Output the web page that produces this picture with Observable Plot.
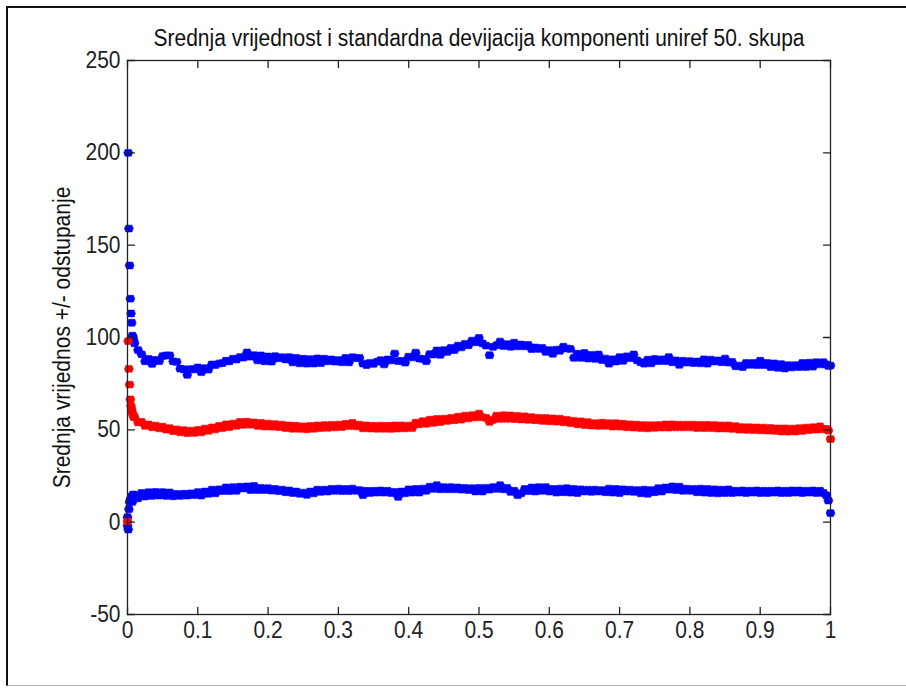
<!DOCTYPE html>
<html>
<head>
<meta charset="utf-8">
<script src="https://cdn.jsdelivr.net/npm/d3@7"></script>
<script src="https://cdn.jsdelivr.net/npm/@observablehq/plot@0.6"></script>
<style>
  html, body { margin: 0; padding: 0; background: #fff; }
  #wrap { position: relative; width: 906px; height: 689px; overflow: hidden; background: #fff; }
  #border { position: absolute; left: 6px; top: 6px; width: 920px; height: 680px;
            border-left: 2px solid #111; border-top: 2px solid #111; border-bottom: 1px solid #b0b0b0; box-sizing: border-box; }
  #chart { position: absolute; left: 0; top: 0; }
</style>
</head>
<body>
<div id="wrap"><div id="border"></div><div id="chart"></div></div>
<script>
// Normalised component position: dense samples at both ends, regular steps in between
const headX = [0, 0.001, 0.002, 0.003, 0.004, 0.005, 0.006, 0.007, 0.008, 0.009];
const bodyX = d3.range(197).map(i => 0.01 + 0.005 * i);
const tailX = [0.994, 0.997, 1.0];
const compX = [...headX, ...bodyX, ...tailX];

// Mean value of each component
const meanVals = [
  0.4, 98, 83, 74.5, 66.5, 63, 61, 59, 58, 57,
  56.8, 54, 54.3, 52.2, 52.9, 51.4, 52.3, 50.8, 51.7, 50.1,
  50.9, 49.3, 50.2, 48.6, 49.8, 48.2, 49.6, 48.3, 49.9, 48.6,
  50.7, 49.5, 51.3, 50.2, 52.1, 51, 53, 51.5, 53.4, 52.2,
  54.3, 52.7, 54.4, 52.8, 54, 52.1, 53.7, 51.8, 53.4, 51.7,
  53.1, 51.5, 52.8, 51, 52.4, 50.6, 52.2, 50.5, 51.9, 50.3,
  52.1, 50.6, 52.4, 50.9, 52.6, 51.1, 52.7, 51.3, 52.8, 51.5,
  53.2, 52, 53.8, 51.9, 52.8, 50.8, 52.4, 50.7, 52.2, 50.6,
  52.3, 50.6, 52.2, 50.5, 52.4, 50.7, 52.4, 50.8, 52.3, 51,
  53.9, 53, 54.7, 53.3, 55.5, 53.8, 55.9, 54.2, 56.1, 54.8,
  56.5, 55.2, 57.1, 55.5, 57.7, 56.2, 57.9, 56.7, 58.8, 56.8,
  56.5, 54.3, 55.4, 57.7, 55.9, 57.9, 56, 57.8, 55.8, 57.5,
  55.6, 57.3, 55.4, 56.9, 55.2, 56.5, 54.8, 56.5, 54.6, 56.2,
  54.4, 56, 54.1, 55.4, 53.7, 54.9, 53, 54.6, 52.6, 54.2,
  52.3, 53.6, 52.1, 53.9, 52.2, 53.6, 51.8, 53.6, 51.7, 53.3,
  51.4, 53, 51.2, 52.8, 51, 52.6, 50.8, 52.5, 51.1, 52.6,
  51.2, 52.9, 51.2, 53, 51.3, 52.8, 51.3, 52.8, 51.3, 52.8,
  51, 52.7, 51, 52.7, 50.9, 52.6, 50.7, 52.4, 50.7, 52.4,
  50.5, 52, 50.1, 51.5, 50, 51.4, 49.8, 51.3, 49.7, 51.2,
  49.6, 51, 49.4, 50.8, 49.1, 50.8, 49, 50.7, 49.1, 50.9,
  49.4, 51.2, 49.9, 51.4, 50.1, 51.9, 50.3,
  50.5, 49.6, 45
];

// Mean + standard deviation
const upperVals = [
  2.7, 200, 159, 139, 121, 113, 108, 101, 100, 98,
  96.8, 93.2, 90.9, 87.1, 88.4, 85.7, 87.9, 87.2, 89.9, 90.3,
  90.3, 87.1, 86.8, 83.1, 82.8, 79.8, 82.9, 82.7, 83.8, 81.2,
  83.4, 82.6, 85.4, 85.1, 85.9, 86.1, 87.4, 87.1, 88.5, 88.1,
  89.4, 89.1, 91.9, 89.6, 90.4, 87.6, 90.3, 87.1, 89.7, 86.9,
  89.9, 88.7, 89.3, 88.1, 89.4, 86.5, 89, 86, 88.5, 85.8,
  88.3, 85.9, 88.7, 86.1, 88.5, 87.1, 88.1, 86.9, 87.8, 86.6,
  88.9, 86.5, 89.3, 88.8, 89, 85.9, 85.1, 86.3, 85.7, 86.9,
  87.7, 85.4, 88.1, 87.6, 91.3, 87.2, 87.3, 86.4, 89.6, 89.2,
  91.8, 88.6, 88.4, 87.2, 91, 90.8, 93, 90.6, 93.2, 92.2,
  94.4, 93.2, 95.6, 94.6, 96.6, 95.8, 98.3, 97.4, 99.8, 96.8,
  95.6, 90.4, 94.9, 95.8, 97.8, 95.4, 96.4, 95, 97.2, 95.2,
  96.2, 95.2, 96, 93.7, 94.6, 93.8, 94.4, 92.2, 93.2, 91.2,
  93.4, 92.8, 95, 94, 93.8, 89, 91.2, 89, 91.6, 88.6,
  90.6, 88.4, 90.8, 87.8, 88.6, 85.8, 88.2, 87, 89.4, 87.4,
  89.8, 88.8, 90.8, 87.6, 86.6, 85.8, 88, 86, 88.4, 87.2,
  88.2, 87.2, 89.4, 86.6, 87.6, 85.2, 87.4, 86.4, 87.2, 86.2,
  87, 86, 88.2, 85.8, 88, 87, 87.6, 86.6, 88.6, 86.4,
  86.8, 84.4, 84.8, 84, 86.2, 85.2, 86.2, 85, 87.4, 85,
  86.2, 84, 86, 83.6, 85.6, 83.2, 85, 83.8, 85, 84,
  86.2, 84, 86.4, 84.2, 86.6, 85.4, 86.6,
  85.4, 84.6, 84.8
];

// Mean - standard deviation
const lowerVals = [
  -1.9, -4, 7, 10.8, 12, 13, 14, 11, 15, 14,
  14.8, 12.9, 15.8, 13.9, 16.2, 14.2, 16.4, 14.4, 16.3, 14.2,
  16.1, 14, 15.3, 14.2, 15.4, 14.4, 15.6, 14.6, 16.3, 14.4,
  16.6, 15.4, 17.6, 15.6, 17.8, 16.8, 18.8, 16.8, 19, 17,
  19.2, 18.2, 19.4, 17.4, 19.6, 17.4, 18.6, 17.4, 18.4, 17.1,
  18, 16.8, 17.6, 16.2, 17.2, 15.8, 16.6, 15.4, 16, 14.8,
  16.6, 15.6, 17.6, 16.4, 17.6, 16.6, 18, 17, 18.2, 16.8,
  18, 16.8, 18.2, 17, 17.4, 14.6, 17, 15.8, 17, 16,
  17.2, 16, 17, 15.8, 16.4, 13.7, 16.6, 15.6, 17.8, 16,
  18, 16, 18.2, 17, 19.2, 18, 20, 17.8, 19, 17.8,
  19, 17.8, 18.8, 17.6, 18.6, 17.4, 18.4, 16.6, 18.6, 16.6,
  18.6, 17.6, 19, 18, 20, 17.8, 18.6, 16.4, 17, 14.6,
  15.6, 18, 16.8, 18.8, 16.6, 19, 17, 19, 16.6, 18,
  16, 18.2, 16.2, 18.4, 16, 18, 15.8, 17.8, 16.6, 17.6,
  16.4, 17.6, 16.6, 17.4, 16.2, 18.2, 16, 18, 15.8, 17.8,
  16.6, 17.6, 16.4, 17.4, 15.6, 17.6, 15.4, 17.4, 16.2, 18.4,
  16.6, 18.8, 17.6, 19.4, 17.4, 19.2, 17, 18.2, 17, 18,
  16.2, 18.2, 16, 18, 15.8, 17.8, 15.6, 17.6, 15.8, 17.8,
  15.8, 17, 16, 17.2, 15.8, 17, 16, 17.2, 15.8, 17,
  15.8, 17, 16, 17.2, 15.8, 17, 15.8, 17.2, 16, 17.2,
  15.8, 17, 16, 17.2, 15.8, 17, 15.8,
  14.5, 11.7, 4.9
];

const xTicks = [0, 0.1, 0.2, 0.3, 0.4, 0.5, 0.6, 0.7, 0.8, 0.9, 1];
const yTicks = [-50, 0, 50, 100, 150, 200, 250];
const titleText = "Srednja vrijednost i standardna devijacija komponenti uniref 50. skupa";
const yLabelText = "Srednja vrijednos +/- odstupanje";

for (const [name, arr] of [["mean", meanVals], ["upper", upperVals], ["lower", lowerVals]]) {
  if (arr.length !== compX.length) throw new Error(`${name}: ${arr.length} values for ${compX.length} positions`);
}

const rows = compX.map((x, i) => ({x, mean: meanVals[i], upper: upperVals[i], lower: lowerVals[i]}));

// Filled marker: a wide, flat-topped diamond with pointed ends
const flatDiamond = {
  draw(context, size) {
    const r = Math.sqrt(size / Math.PI);
    const w = r * 1.1, h = r * 0.85, s = w * 0.7;
    context.moveTo(-w, 0);
    context.lineTo(-s, -h);
    context.lineTo(s, -h);
    context.lineTo(w, 0);
    context.lineTo(s, h);
    context.lineTo(-s, h);
    context.closePath();
  }
};

// Short inward-pointing tick line
const tickLine = {
  draw(context, l) {
    context.moveTo(0, 0);
    context.lineTo(0, -l);
  }
};

const axisColor = "#222";
const fontFamily = "'Liberation Sans', Arial, Helvetica, sans-serif";
const dotStyle = {x: "x", symbol: flatDiamond, r: 4, strokeWidth: 0.6};

const chart = Plot.plot({
  width: 906,
  height: 689,
  marginLeft: 127,
  marginRight: 76,
  marginTop: 60,
  marginBottom: 75,
  style: {fontFamily, fontSize: "21px", color: axisColor, background: "transparent"},
  x: {domain: [0, 1]},
  y: {domain: [-50, 250]},
  marks: [
    Plot.dot(rows, {...dotStyle, y: "upper", fill: "#0000ff", stroke: "#0000ff"}),
    Plot.dot(rows, {...dotStyle, y: "lower", fill: "#0000ff", stroke: "#0000ff"}),
    Plot.dot(rows, {...dotStyle, y: "mean", fill: "#ff0000", stroke: "#ff0000"}),
    Plot.frame({stroke: axisColor, strokeWidth: 1.3}),
    Plot.vector(xTicks, {x: d => d, frameAnchor: "bottom", rotate: 0, length: 7, anchor: "start", shape: tickLine, stroke: axisColor, strokeWidth: 1.3}),
    Plot.vector(xTicks, {x: d => d, frameAnchor: "top", rotate: 180, length: 7, anchor: "start", shape: tickLine, stroke: axisColor, strokeWidth: 1.3}),
    Plot.vector(yTicks, {y: d => d, frameAnchor: "left", rotate: 90, length: 7, anchor: "start", shape: tickLine, stroke: axisColor, strokeWidth: 1.3}),
    Plot.vector(yTicks, {y: d => d, frameAnchor: "right", rotate: -90, length: 7, anchor: "start", shape: tickLine, stroke: axisColor, strokeWidth: 1.3}),
    Plot.axisX({ticks: xTicks, tickSize: 0, tickPadding: 7, tickFormat: d => String(d), label: null, fill: axisColor}),
    Plot.axisY({ticks: yTicks, tickSize: 0, tickPadding: 7, tickFormat: d => String(d), label: null, fill: axisColor}),
    Plot.text([titleText], {frameAnchor: "top", dy: -22, lineAnchor: "middle", fill: "#111"}),
    Plot.text([yLabelText], {frameAnchor: "left", dx: -65, rotate: -90, textAnchor: "middle", lineAnchor: "middle", fill: "#111"})
  ]
});

// Slightly tall lettering: stretch each label vertically about its own anchor
chart.querySelectorAll("text").forEach(t => {
  const tr = t.getAttribute("transform") || "";
  t.setAttribute("transform", `${tr} scale(1,1.1)`.trim());
});

document.getElementById("chart").append(chart);
</script>
</body>
</html>
